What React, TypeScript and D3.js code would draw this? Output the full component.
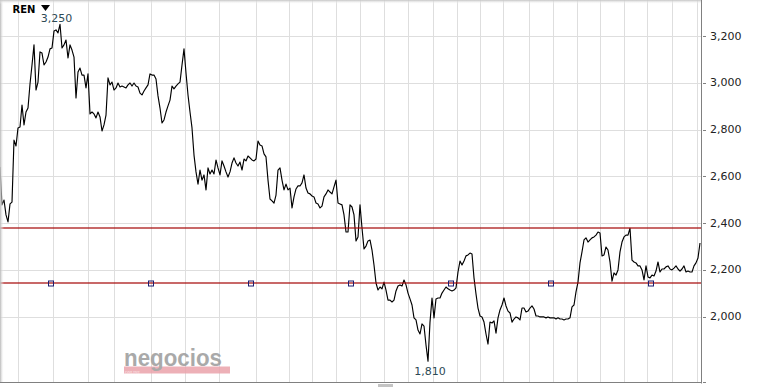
import React from 'react';
import * as d3 from 'd3';

// REN daily closes, one value per session
const prices: number[] = [
  2640, 2478, 2499, 2435, 2405, 2482, 2490, 2755, 2730, 2807,
  2811, 2905, 2820, 2875, 2892, 2995, 3076, 3162, 2969, 3003,
  3132, 3127, 3076, 3089, 3110, 3145, 3149, 3221, 3226, 3213,
  3250, 3149, 3162, 3183, 3106, 3162, 3140, 3110, 2935, 3046,
  3063, 3033, 3033, 2978, 3038, 2867, 2875, 2867, 2850, 2875,
  2854, 2794, 2820, 2862, 3021, 2991, 3003, 2969, 2978, 2999,
  2982, 2986, 2982, 2978, 2991, 2999, 2986, 2999, 2986, 2982,
  2956, 2948, 2965, 2978, 2991, 3038, 3033, 3033, 3016, 2944,
  2892, 2828, 2841, 2875, 2901, 2926, 2986, 2974, 2986, 2995,
  3003, 3076, 3145, 3042, 2948, 2875, 2807, 2691, 2619, 2567,
  2627, 2584, 2606, 2542, 2636, 2610, 2627, 2610, 2670, 2636,
  2606, 2666, 2644, 2619, 2597, 2619, 2657, 2679, 2657, 2644,
  2661, 2627, 2674, 2666, 2687, 2679, 2670, 2666, 2674, 2751,
  2734, 2730, 2696, 2683, 2584, 2503, 2495, 2486, 2520, 2627,
  2636, 2584, 2542, 2567, 2542, 2550, 2465, 2512, 2546, 2559,
  2559, 2572, 2606, 2550, 2529, 2525, 2516, 2512, 2486, 2482,
  2465, 2473, 2512, 2525, 2542, 2533, 2525, 2555, 2584, 2486,
  2482, 2478, 2435, 2362, 2362, 2478, 2469, 2435, 2324, 2341,
  2478, 2379, 2290, 2302, 2324, 2328, 2285, 2221, 2144, 2114,
  2127, 2119, 2148, 2114, 2071, 2071, 2063, 2071, 2110, 2131,
  2136, 2131, 2157, 2136, 2101, 2076, 2050, 1995, 1986, 1943,
  1926, 1969, 1960, 1879, 1810, 1977, 2080, 1995, 2076, 2080,
  2080, 2101, 2114, 2127, 2119, 2114, 2110, 2114, 2123, 2191,
  2238, 2221, 2238, 2260, 2264, 2272, 2268, 2166, 2097, 2037,
  2003, 1999, 1977, 1926, 1883, 1977, 1973, 1982, 1930, 1995,
  2029, 2050, 2080, 2046, 2024, 2016, 1977, 1990, 1999, 1995,
  1986, 2037, 2037, 2020, 2024, 2037, 2046, 2033, 2003, 2003,
  1999, 1999, 1999, 1995, 1999, 1995, 1995, 1995, 1990, 1995,
  1990, 1990, 1986, 1990, 1990, 1995, 2042, 2050, 2106, 2148,
  2230, 2277, 2328, 2337, 2319, 2328, 2337, 2341, 2349, 2362,
  2358, 2260, 2264, 2298, 2285, 2234, 2152, 2187, 2178, 2200,
  2277, 2319, 2341, 2349, 2349, 2378, 2242, 2234, 2230, 2217,
  2217, 2200, 2157, 2217, 2170, 2166, 2178, 2174, 2195, 2234,
  2191, 2204, 2204, 2213, 2217, 2204, 2200, 2208, 2217, 2204,
  2195, 2204, 2217, 2191, 2195, 2191, 2191, 2217, 2230, 2251,
  2315,
];

const yTicks: number[] = [2000, 2200, 2400, 2600, 2800, 3000, 3200];
// session positions where a new month starts (vertical grid)
const monthStarts: number[] = [
  9, 26.5, 44, 57, 75.5, 92.5, 109.5, 128, 144.5, 156, 168, 180, 192,
  204, 216.5, 228.5, 240, 251.5, 264.5, 276.5, 288.5, 300, 312, 323.5, 336, 348.5,
];
const levels: number[] = [2378, 2144];
const supportHandles: number[] = [25.65, 75.65, 125.65, 175.65, 225.65, 275.65, 325.65];
const symbolName = 'REN';
const highLabelSession = 28.25;
const lowLabelSession = 215;

const W = 771;
const H = 387;
const plotRight = 701.5;
const plotBottom = 383;

export default function App() {
  const x = d3.scaleLinear().domain([0, prices.length - 1]).range([0, 700]);
  const y = d3.scaleLinear().domain([2000, 3200]).range([316.7, 36.0]);
  const fmt = d3.format(',');
  const line = d3
    .line<number>()
    .x((_, i) => x(i))
    .y((d) => y(d));
  const hi = d3.max(prices) as number;
  const lo = d3.min(prices) as number;
  const font = 'DejaVu Sans, Verdana, sans-serif';
  const ySup = Math.round(y(levels[1]));

  return (
    <svg
      width={W}
      height={H}
      style={{ position: 'absolute', left: 0, top: 0, background: '#fff' }}
    >
      <defs>
        <linearGradient id="shL" x1="0" x2="1" y1="0" y2="0">
          <stop offset="0" stopColor="#b8b8b8" />
          <stop offset="1" stopColor="#ffffff" stopOpacity="0" />
        </linearGradient>
        <linearGradient id="shT" x1="0" x2="0" y1="0" y2="1">
          <stop offset="0" stopColor="#c4c4c4" />
          <stop offset="1" stopColor="#ffffff" stopOpacity="0" />
        </linearGradient>
        <clipPath id="plot">
          <rect x={0} y={0} width={plotRight} height={plotBottom} />
        </clipPath>
      </defs>
      <rect x={0} y={0} width={W} height={H} fill="#fff" />

      {/* grid */}
      <g stroke="#dedede" strokeWidth={1}>
        {monthStarts.map((m, i) => (
          <line key={'v' + i} x1={Math.round(x(m)) + 0.5} x2={Math.round(x(m)) + 0.5} y1={0} y2={plotBottom} />
        ))}
        {yTicks.map((t) => (
          <line key={'h' + t} x1={0} x2={plotRight} y1={Math.round(y(t)) + 0.5} y2={Math.round(y(t)) + 0.5} />
        ))}
      </g>

      {/* watermark logo */}
      <g opacity={0.85}>
        <rect x={124} y={366.5} width={106} height={7} fill="#eba3ab" />
        <text
          x={124}
          y={365.5}
          fontSize={24}
          fontWeight="bold"
          fontFamily="Liberation Sans, Arial, sans-serif"
          fill="#9b9b9b"
          textLength={98}
          lengthAdjust="spacingAndGlyphs"
        >
          negocios
        </text>
        <text x={125} y={374.3} fontSize={4} fontFamily="Liberation Serif, serif" fill="#fbe3e6">
          ONLINE
        </text>
      </g>

      {/* price line */}
      <path
        d={line(prices) || ''}
        fill="none"
        stroke="#000"
        strokeWidth={1.15}
        strokeLinejoin="round"
        clipPath="url(#plot)"
      />

      {/* levels */}
      {levels.map((lv) => (
        <rect
          key={'lv' + lv}
          x={0}
          y={Math.round(y(lv)) - 0.6}
          width={plotRight}
          height={1.2}
          fill="#a50606"
        />
      ))}

      {/* handles on support line */}
      {supportHandles.map((s, i) => (
        <rect
          key={i}
          x={Math.round(x(s)) - 2.5}
          y={ySup - 2}
          width={5}
          height={5}
          fill="none"
          stroke="#1c1c70"
          strokeWidth={1}
        />
      ))}

      {/* shadows */}
      <rect x={0} y={0} width={4} height={plotBottom} fill="url(#shL)" />
      <rect x={0} y={0} width={plotRight} height={4} fill="url(#shT)" />

      {/* axes */}
      <g stroke="#808080" strokeWidth={1}>
        <line x1={plotRight} x2={plotRight} y1={0} y2={plotBottom + 0.5} />
        <line x1={0} x2={plotRight} y1={plotBottom - 0.5} y2={plotBottom - 0.5} />
        {yTicks.map((t) => (
          <line key={'t' + t} x1={703} x2={706} y1={Math.round(y(t)) + 0.5} y2={Math.round(y(t)) + 0.5} />
        ))}
        <line x1={703} x2={706} y1={plotBottom - 0.5} y2={plotBottom - 0.5} />
      </g>
      <rect x={378} y={384} width={15} height={3} fill="#c4c4c4" />

      <g fontFamily={font} fontSize={11} fill="#222">
        {yTicks.map((t) => (
          <text key={'l' + t} x={710} y={y(t)} dominantBaseline="central">
            {fmt(t)}
          </text>
        ))}
      </g>

      {/* high / low labels */}
      <g fontFamily={font} fontSize={11} fill="#2d4a55" textAnchor="middle">
        <text x={x(highLabelSession)} y={y(hi) - 2}>
          {fmt(hi)}
        </text>
        <text x={x(lowLabelSession)} y={y(lo) + 14}>
          {fmt(lo)}
        </text>
      </g>

      {/* symbol */}
      <text x={12.5} y={12.7} fontFamily={font} fontSize={10} fontWeight="bold" fill="#000">
        {symbolName}
      </text>
      <path d="M41,5 L50,5 L45.5,11 Z" fill="#000" />
    </svg>
  );
}
